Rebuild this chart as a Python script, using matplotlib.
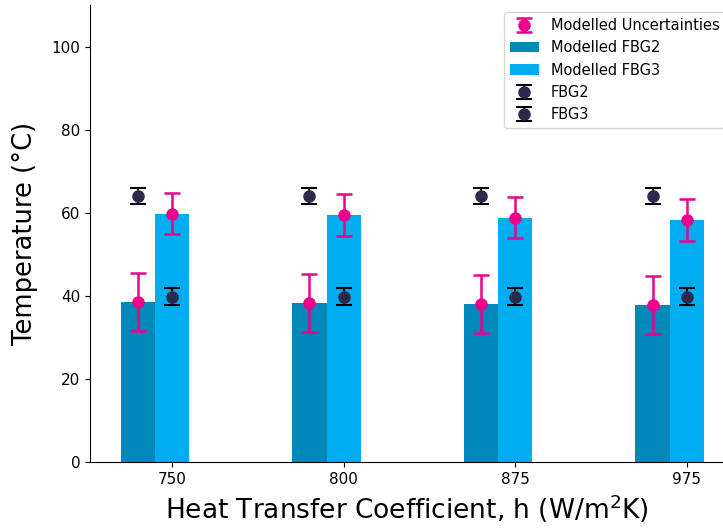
import matplotlib.pyplot as plt
import numpy as np

h_labels = ['750', '800', '875', '975']
model_fbg2 = [38.5, 38.3, 38.0, 37.7]
model_fbg3 = [59.8, 59.4, 58.8, 58.2]
model_err2 = [7.0, 7.0, 7.0, 7.0]
model_err3 = [5.0, 5.0, 5.0, 5.0]
meas_fbg2 = [64.0, 64.0, 64.0, 64.0]
meas_fbg3 = [39.8, 39.8, 39.8, 39.8]
meas_err = [2.0, 2.0, 2.0, 2.0]

x = np.arange(len(h_labels))
w = 0.2

fig = plt.figure(figsize=(7.23, 5.31), dpi=100)
ax = fig.add_axes([0.1245, 0.13, 0.8755, 0.8606])

ax.bar(x - w, model_fbg2, w, color='#0088b8', label='Modelled FBG2')
ax.bar(x, model_fbg3, w, color='#00aeef', label='Modelled FBG3')

ax.errorbar(np.concatenate([x - w, x]), model_fbg2 + model_fbg3,
            yerr=model_err2 + model_err3, fmt='o', color='#ec008c',
            ms=8, capsize=6, elinewidth=1.8, capthick=1.8,
            label='Modelled Uncertainties')
ax.errorbar(x - w, meas_fbg2, yerr=meas_err, fmt='o', color='#2b2a4c',
            ecolor='black', ms=8, capsize=6, elinewidth=1.5, capthick=1.5,
            label='FBG2')
ax.errorbar(x, meas_fbg3, yerr=meas_err, fmt='o', color='#2b2a4c',
            ecolor='black', ms=8, capsize=6, elinewidth=1.5, capthick=1.5,
            label='FBG3')

ax.set_xticks(x)
ax.set_xticklabels(h_labels, fontsize=11)
ax.tick_params(axis='y', labelsize=11)
ax.set_ylim(0, 110)
ax.set_xlim(-0.478, 3.21)
ax.set_yticks([0, 20, 40, 60, 80, 100])
ax.spines['top'].set_visible(False)
ax.spines['right'].set_visible(False)

ax.set_ylabel('Temperature (°C)', fontsize=18.5, labelpad=10)
ax.set_xlabel('Heat Transfer Coefficient, h (W/m$^2$K)', fontsize=19)

handles, labels = ax.get_legend_handles_labels()
order = ['Modelled Uncertainties', 'Modelled FBG2', 'Modelled FBG3', 'FBG2', 'FBG3']
hd = dict(zip(labels, handles))
ax.legend([hd[k] for k in order], order, loc='upper right',
          bbox_to_anchor=(1.015, 1.0), fontsize=10.5)

fig.savefig('out.png', dpi=100)
